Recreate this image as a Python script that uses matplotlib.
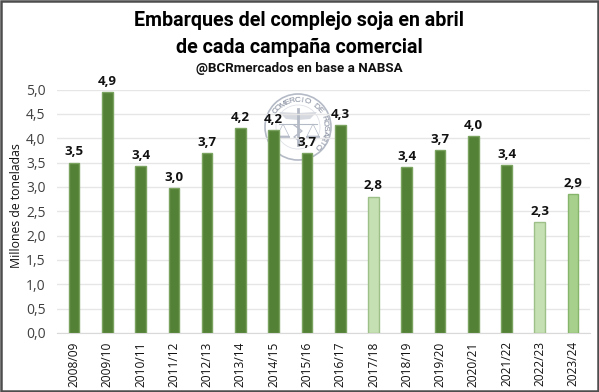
import numpy as np
import matplotlib
matplotlib.use("Agg")
import matplotlib.pyplot as plt
from matplotlib.patches import Circle, Rectangle, Polygon

campaigns = ["2008/09","2009/10","2010/11","2011/12","2012/13","2013/14","2014/15","2015/16",
             "2016/17","2017/18","2018/19","2019/20","2020/21","2021/22","2022/23","2023/24"]
values = [3.5,4.95,3.42,2.97,3.7,4.2,4.16,3.7,4.27,2.8,3.4,3.75,4.05,3.45,2.28,2.85]
labels = ["3,5","4,9","3,4","3,0","3,7","4,2","4,2","3,7","4,3","2,8","3,4","3,7","4,0","3,4","2,3","2,9"]
yticks = [0,0.5,1,1.5,2,2.5,3,3.5,4,4.5,5]
ytick_labels = ["0,0","0,5","1,0","1,5","2,0","2,5","3,0","3,5","4,0","4,5","5,0"]
dark = "#538135"; dark_edge = "#7aa35f"
light = {"2017/18":("#c5e0b3","#9dbf88"),"2022/23":("#c5e0b3","#9dbf88"),"2023/24":("#a8d08d","#85b56a")}

W,H = 599,392
fig = plt.figure(figsize=(W/100,H/100),dpi=100,facecolor="white")
ax = fig.add_axes([57.4/W,1-333/H,532.3/W,243.5/H])
fams = ["Open Sans","DejaVu Sans"]
x = np.arange(len(values))
cols = [light.get(c,(dark,dark_edge)) for c in campaigns]
ax.bar(x,values,width=0.32,color=[c[0] for c in cols],edgecolor=[c[1] for c in cols],linewidth=1,zorder=3)
ax.set_xlim(-0.5,15.5); ax.set_ylim(0,5)
ax.set_yticks(yticks,ytick_labels,family=fams,fontsize=10,color="#404040")
ax.set_xticks(x,campaigns,rotation=90,family=fams,fontsize=8.6,color="#111111")
ax.tick_params(length=0)
ax.tick_params(axis="y",pad=8.5)
ax.tick_params(axis="x",pad=6)
ax.grid(axis="y",color="#e6e6e6",lw=1,zorder=0)
ax.set_axisbelow(True)
for s in ["top","right","left"]: ax.spines[s].set_visible(False)
ax.spines["bottom"].set_color("#d9d9d9")
ax.set_ylabel("Millones de toneladas",family=fams,fontsize=8.8,color="#111111")
ax.yaxis.set_label_coords((23-57.4)/532.3,(333-206)/243.5)
for xi,v,l in zip(x,values,labels):
    ax.annotate(l,(xi,v),xytext=(0,3),textcoords="offset points",ha="center",va="bottom",
                family=fams,fontsize=9.5,fontweight="bold",color="#111111",zorder=6)

# seal, overlay in pixel coordinates
ov = fig.add_axes([0,0,1,1],facecolor="none",zorder=-1); ov.set_xlim(0,W); ov.set_ylim(H,0); ov.axis("off")
ax.set_zorder(1); ax.patch.set_alpha(0)
cx,cy,r = 298,127,33
sc = "#b4bac6"
ov.add_patch(Circle((cx,cy),r,fill=False,ec=sc,lw=1.2))
ov.add_patch(Circle((cx,cy),r-11,fill=False,ec="#dfe1e7",lw=0.6))
text = "COMERCIO DE ROSARIO"
angles = np.linspace(-54,134,len(text))
for ch,a in zip(text,angles):
    t = np.deg2rad(a)
    ov.text(cx+(r-6)*np.sin(t),cy-(r-6)*np.cos(t),ch,rotation=-a,ha="center",va="center",
            fontsize=6,color="#7d8597",family="Liberation Sans",rotation_mode="anchor")
ov.plot([cx,cx],[cy-18,cy+18],color=sc,lw=2)
ov.plot([cx-19,cx+19],[cy-3,cy-3],color=sc,lw=0.8)
for sx in (-15,15):
    ov.add_patch(Polygon([(cx+sx-6,cy+9),(cx+sx,cy-3),(cx+sx+6,cy+9)],fill=False,ec=sc,lw=0.5))
    ov.plot([cx+sx-6,cx+sx+6],[cy+10,cy+10],color=sc,lw=1.4)
ov.add_patch(Polygon([(cx,cy-14),(cx-19,cy-15),(cx-12,cy-8),(cx,cy-7),(cx+12,cy-8),(cx+19,cy-15)],fc="#d6d9e0",ec="none"))
ov.plot([cx-4,cx+4,cx-4,cx+4],[cy-2,cy+4,cy+10,cy+16],color=sc,lw=1)

# frame and titles
top = fig.add_axes([0,0,1,1],facecolor="none",zorder=5); top.set_xlim(0,W); top.set_ylim(H,0); top.axis("off")
top.add_patch(Rectangle((0.8,0.8),W-1.6,H-1.6,fill=False,ec="#4d4d4d",lw=1.8))
tf = ["Roboto","DejaVu Sans"]
top.text(299,20,"Embarques del complejo soja en abril",ha="center",va="center",family=tf,fontsize=14.1,fontweight="bold",color="black")
top.text(299,47,"de cada campaña comercial",ha="center",va="center",family=tf,fontsize=14.1,fontweight="bold",color="black")
top.text(299,68,"@BCRmercados en base a NABSA",ha="center",va="center",family=tf,fontsize=9.6,fontweight="bold",color="#111111")
fig.savefig("out.png",dpi=100)
